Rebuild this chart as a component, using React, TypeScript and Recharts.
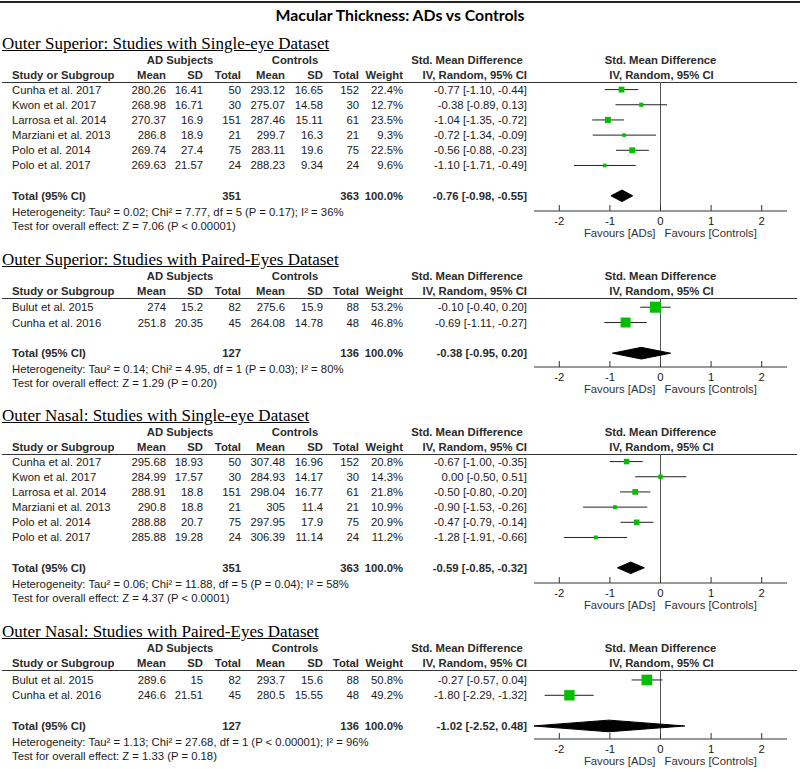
import React from 'react';
import { ScatterChart, Scatter, XAxis, YAxis, ReferenceLine, ErrorBar } from 'recharts';

const SANS = '"Liberation Sans", Arial, Helvetica, sans-serif';
const SERIF = '"Liberation Serif", "Times New Roman", serif';
const TITLE_FONT = 'Lato, "Liberation Sans", sans-serif';
const GREEN = '#00C000';
const INK = '#1a1a1a';
const HEAD = '#2b2b2b';

const mainTitle = 'Macular Thickness: ADs vs Controls';
const xTicks = [-2, -1, 0, 1, 2];
const favoursLeft = 'Favours [ADs]';
const favoursRight = 'Favours [Controls]';

// ---------- Panel 1 ----------
const p1Title = 'Outer Superior: Studies with Single-eye Dataset';
const p1Studies = ['Cunha et al. 2017', 'Kwon et al. 2017', 'Larrosa et al. 2014', 'Marziani et al. 2013', 'Polo et al. 2014', 'Polo et al. 2017'];
const p1AdMean = [280.26, 268.98, 270.37, 286.8, 269.74, 269.63];
const p1AdSd = [16.41, 16.71, 16.9, 18.9, 27.4, 21.57];
const p1AdN = [50, 30, 151, 21, 75, 24];
const p1CtMean = [293.12, 275.07, 287.46, 299.7, 283.11, 288.23];
const p1CtSd = [16.65, 14.58, 15.11, 16.3, 19.6, 9.34];
const p1CtN = [152, 30, 61, 21, 75, 24];
const p1Weight = [22.4, 12.7, 23.5, 9.3, 22.5, 9.6];
const p1Smd = [-0.77, -0.38, -1.04, -0.72, -0.56, -1.1];
const p1Lo = [-1.1, -0.89, -1.35, -1.34, -0.88, -1.71];
const p1Hi = [-0.44, 0.13, -0.72, -0.09, -0.23, -0.49];
const p1Total = { adN: 351, ctN: 363, smd: -0.76, lo: -0.98, hi: -0.55 };
const p1Het = 'Heterogeneity: Tau² = 0.02; Chi² = 7.77, df = 5 (P = 0.17); I² = 36%';
const p1Test = 'Test for overall effect: Z = 7.06 (P < 0.00001)';

// ---------- Panel 2 ----------
const p2Title = 'Outer Superior: Studies with Paired-Eyes Dataset';
const p2Studies = ['Bulut et al. 2015', 'Cunha et al. 2016'];
const p2AdMean = [274, 251.8];
const p2AdSd = [15.2, 20.35];
const p2AdN = [82, 45];
const p2CtMean = [275.6, 264.08];
const p2CtSd = [15.9, 14.78];
const p2CtN = [88, 48];
const p2Weight = [53.2, 46.8];
const p2Smd = [-0.1, -0.69];
const p2Lo = [-0.4, -1.11];
const p2Hi = [0.2, -0.27];
const p2Total = { adN: 127, ctN: 136, smd: -0.38, lo: -0.95, hi: 0.2 };
const p2Het = 'Heterogeneity: Tau² = 0.14; Chi² = 4.95, df = 1 (P = 0.03); I² = 80%';
const p2Test = 'Test for overall effect: Z = 1.29 (P = 0.20)';

// ---------- Panel 3 ----------
const p3Title = 'Outer Nasal: Studies with Single-eye Dataset';
const p3Studies = ['Cunha et al. 2017', 'Kwon et al. 2017', 'Larrosa et al. 2014', 'Marziani et al. 2013', 'Polo et al. 2014', 'Polo et al. 2017'];
const p3AdMean = [295.68, 284.99, 288.91, 290.8, 288.88, 285.88];
const p3AdSd = [18.93, 17.57, 18.8, 18.8, 20.7, 19.28];
const p3AdN = [50, 30, 151, 21, 75, 24];
const p3CtMean = [307.48, 284.93, 298.04, 305, 297.95, 306.39];
const p3CtSd = [16.96, 14.17, 16.77, 11.4, 17.9, 11.14];
const p3CtN = [152, 30, 61, 21, 75, 24];
const p3Weight = [20.8, 14.3, 21.8, 10.9, 20.9, 11.2];
const p3Smd = [-0.67, 0.0, -0.5, -0.9, -0.47, -1.28];
const p3Lo = [-1.0, -0.5, -0.8, -1.53, -0.79, -1.91];
const p3Hi = [-0.35, 0.51, -0.2, -0.26, -0.14, -0.66];
const p3Total = { adN: 351, ctN: 363, smd: -0.59, lo: -0.85, hi: -0.32 };
const p3Het = 'Heterogeneity: Tau² = 0.06; Chi² = 11.88, df = 5 (P = 0.04); I² = 58%';
const p3Test = 'Test for overall effect: Z = 4.37 (P < 0.0001)';

// ---------- Panel 4 ----------
const p4Title = 'Outer Nasal: Studies with Paired-Eyes Dataset';
const p4Studies = ['Bulut et al. 2015', 'Cunha et al. 2016'];
const p4AdMean = [289.6, 246.6];
const p4AdSd = [15, 21.51];
const p4AdN = [82, 45];
const p4CtMean = [293.7, 280.5];
const p4CtSd = [15.6, 15.55];
const p4CtN = [88, 48];
const p4Weight = [50.8, 49.2];
const p4Smd = [-0.27, -1.8];
const p4Lo = [-0.57, -2.29];
const p4Hi = [0.04, -1.32];
const p4Total = { adN: 127, ctN: 136, smd: -1.02, lo: -2.52, hi: 0.48 };
const p4Het = 'Heterogeneity: Tau² = 1.13; Chi² = 27.68, df = 1 (P < 0.00001); I² = 96%';
const p4Test = 'Test for overall effect: Z = 1.33 (P = 0.18)';

const panels = [
  { title: p1Title, studies: p1Studies, adMean: p1AdMean, adSd: p1AdSd, adN: p1AdN, ctMean: p1CtMean, ctSd: p1CtSd, ctN: p1CtN, weight: p1Weight, smd: p1Smd, lo: p1Lo, hi: p1Hi, total: p1Total, het: p1Het, test: p1Test, lineY: 82, axisY: 211, dMin: -0.5, dMax: 8 },
  { title: p2Title, studies: p2Studies, adMean: p2AdMean, adSd: p2AdSd, adN: p2AdN, ctMean: p2CtMean, ctSd: p2CtSd, ctN: p2CtN, weight: p2Weight, smd: p2Smd, lo: p2Lo, hi: p2Hi, total: p2Total, het: p2Het, test: p2Test, lineY: 298, axisY: 367, dMin: -0.6, dMax: 3.9 },
  { title: p3Title, studies: p3Studies, adMean: p3AdMean, adSd: p3AdSd, adN: p3AdN, ctMean: p3CtMean, ctSd: p3CtSd, ctN: p3CtN, weight: p3Weight, smd: p3Smd, lo: p3Lo, hi: p3Hi, total: p3Total, het: p3Het, test: p3Test, lineY: 454, axisY: 583, dMin: -0.5, dMax: 8 },
  { title: p4Title, studies: p4Studies, adMean: p4AdMean, adSd: p4AdSd, adN: p4AdN, ctMean: p4CtMean, ctSd: p4CtSd, ctN: p4CtN, weight: p4Weight, smd: p4Smd, lo: p4Lo, hi: p4Hi, total: p4Total, het: p4Het, test: p4Test, lineY: 670, axisY: 739, dMin: -0.65, dMax: 3.85 },
];

const PLOT_LEFT = 534;
const PLOT_RIGHT = 787;
const ZERO_X = (PLOT_LEFT + PLOT_RIGHT) / 2;
const FS = 11.3;
const DIAMOND_HALF = 0.38;

const fmt = (v: number) => v.toFixed(2);
const ci = (s: number, l: number, h: number) => `${fmt(s)} [${fmt(l)}, ${fmt(h)}]`;

type TP = { x: number; y: number; a?: 'left' | 'right' | 'center'; b?: boolean; s?: number; c?: string; f?: string; u?: boolean; children: React.ReactNode };
function Txt({ x, y, a = 'left', b = false, s = FS, c = INK, f = SANS, u = false, children }: TP) {
  const st: React.CSSProperties = {
    position: 'absolute', top: y - 9, height: 18, lineHeight: '18px', fontSize: s,
    fontWeight: b ? 'bold' : 'normal', color: c, fontFamily: f, whiteSpace: 'nowrap',
    textDecoration: u ? 'underline' : 'none',
  };
  if (a === 'left') st.left = x;
  else if (a === 'right') st.right = 800 - x;
  else { st.left = x - 300; st.width = 600; st.textAlign = 'center'; }
  return <div style={st}>{children}</div>;
}

const Tick = (props: any) => {
  const { x, y, payload } = props;
  return (
    <g>
      <line x1={x} x2={x} y1={y - 6} y2={y} stroke="#333" strokeWidth={1} />
      <text x={x} y={y + 14} textAnchor="middle" fontSize={FS} fontFamily={SANS} fill={INK}>{payload.value}</text>
    </g>
  );
};

const Square = (props: any) => {
  const { cx, cy, payload } = props;
  const s = 2 + payload.w * 0.17;
  return <rect x={cx - s / 2} y={cy - s / 2} width={s} height={s} fill={GREEN} />;
};
const Empty = () => <g />;

// column right edges
const C_ADMEAN = 166, C_ADSD = 203, C_ADN = 241, C_CTMEAN = 285, C_CTSD = 323, C_CTN = 359, C_W = 403, C_SMD = 527;

function Panel({ p }: { p: any }) {
  const rowH = (p.axisY - p.lineY) / (p.dMax - p.dMin);
  const yOf = (i: number) => p.lineY + (i - p.dMin) * rowH;
  const totalIdx = p.studies.length + 1;
  const totalY = yOf(totalIdx);
  const rows = p.smd.map((v: number, i: number) => ({ x: v, y: i, err: [v - p.lo[i], p.hi[i] - v], w: p.weight[i] }));
  const t = p.total;
  const dia = [
    { x: t.lo, y: totalIdx },
    { x: t.smd, y: totalIdx - DIAMOND_HALF },
    { x: t.hi, y: totalIdx },
    { x: t.smd, y: totalIdx + DIAMOND_HALF },
    { x: t.lo, y: totalIdx },
  ];
  const L = p.lineY;
  return (
    <>
      <Txt x={2} y={L - 38} f={SERIF} s={17} c="#000" u>{p.title}</Txt>
      <Txt x={180} y={L - 22} a="center" b c={HEAD}>AD Subjects</Txt>
      <Txt x={295} y={L - 22} a="center" b c={HEAD}>Controls</Txt>
      <Txt x={467} y={L - 22} a="center" b c={HEAD}>Std. Mean Difference</Txt>
      <Txt x={ZERO_X} y={L - 22} a="center" b c={HEAD}>Std. Mean Difference</Txt>
      <Txt x={12} y={L - 7} b c={HEAD}>Study or Subgroup</Txt>
      <Txt x={C_ADMEAN} y={L - 7} a="right" b c={HEAD}>Mean</Txt>
      <Txt x={C_ADSD} y={L - 7} a="right" b c={HEAD}>SD</Txt>
      <Txt x={C_ADN} y={L - 7} a="right" b c={HEAD}>Total</Txt>
      <Txt x={C_CTMEAN} y={L - 7} a="right" b c={HEAD}>Mean</Txt>
      <Txt x={C_CTSD} y={L - 7} a="right" b c={HEAD}>SD</Txt>
      <Txt x={C_CTN} y={L - 7} a="right" b c={HEAD}>Total</Txt>
      <Txt x={C_W} y={L - 7} a="right" b c={HEAD}>Weight</Txt>
      <Txt x={C_SMD} y={L - 7} a="right" b c={HEAD}>IV, Random, 95% CI</Txt>
      <Txt x={ZERO_X + 1} y={L - 7} a="center" b c={HEAD}>IV, Random, 95% CI</Txt>
      <div style={{ position: 'absolute', left: 2, top: L, width: 795, height: 1, background: '#333' }} />
      {p.studies.map((s: string, i: number) => (
        <React.Fragment key={s}>
          <Txt x={12} y={yOf(i)}>{s}</Txt>
          <Txt x={C_ADMEAN} y={yOf(i)} a="right">{String(p.adMean[i])}</Txt>
          <Txt x={C_ADSD} y={yOf(i)} a="right">{String(p.adSd[i])}</Txt>
          <Txt x={C_ADN} y={yOf(i)} a="right">{String(p.adN[i])}</Txt>
          <Txt x={C_CTMEAN} y={yOf(i)} a="right">{String(p.ctMean[i])}</Txt>
          <Txt x={C_CTSD} y={yOf(i)} a="right">{String(p.ctSd[i])}</Txt>
          <Txt x={C_CTN} y={yOf(i)} a="right">{String(p.ctN[i])}</Txt>
          <Txt x={C_W} y={yOf(i)} a="right">{p.weight[i].toFixed(1) + '%'}</Txt>
          <Txt x={C_SMD} y={yOf(i)} a="right">{ci(p.smd[i], p.lo[i], p.hi[i])}</Txt>
        </React.Fragment>
      ))}
      <Txt x={12} y={totalY} b c={HEAD}>Total (95% CI)</Txt>
      <Txt x={C_ADN} y={totalY} a="right" b c={HEAD}>{String(t.adN)}</Txt>
      <Txt x={C_CTN} y={totalY} a="right" b c={HEAD}>{String(t.ctN)}</Txt>
      <Txt x={C_W} y={totalY} a="right" b c={HEAD}>100.0%</Txt>
      <Txt x={C_SMD} y={totalY} a="right" b c={HEAD}>{ci(t.smd, t.lo, t.hi)}</Txt>
      <Txt x={12} y={totalY + 16}>{p.het}</Txt>
      <Txt x={12} y={totalY + 30}>{p.test}</Txt>
      <Txt x={ZERO_X - 5} y={p.axisY + 22} a="right" c="#333">{favoursLeft}</Txt>
      <Txt x={ZERO_X + 4} y={p.axisY + 22} c="#333">{favoursRight}</Txt>
      <div style={{ position: 'absolute', left: 0, top: L }}>
        <ScatterChart width={800} height={p.axisY - L + 30} margin={{ top: 0, right: 800 - PLOT_RIGHT, bottom: 0, left: PLOT_LEFT }}>
          <XAxis type="number" dataKey="x" domain={[-2.5, 2.5]} allowDataOverflow ticks={xTicks} interval={0}
            tickLine={false} tickSize={0} tickMargin={0} tick={<Tick />} height={30} axisLine={{ stroke: '#333' }} />
          <YAxis type="number" dataKey="y" domain={[p.dMin, p.dMax]} reversed hide allowDataOverflow />
          <ReferenceLine x={0} stroke="#555" strokeWidth={1} />
          <Scatter data={rows} shape={Square} isAnimationActive={false} legendType="none">
            <ErrorBar dataKey="err" direction="x" width={0} stroke="#222" strokeWidth={1} />
          </Scatter>
          <Scatter data={dia} shape={Empty} line={{ fill: '#000', stroke: '#000', strokeWidth: 1 }} lineType="joint" isAnimationActive={false} legendType="none" />
        </ScatterChart>
      </div>
    </>
  );
}

export default function App() {
  return (
    <div style={{ position: 'absolute', left: 0, top: 0, width: 800, height: 769, background: '#fff', overflow: 'hidden' }}>
      <div style={{ position: 'absolute', left: 0, top: 1, width: 800, height: 2, background: '#222' }} />
      <Txt x={400} y={15} a="center" b s={15.8} f={TITLE_FONT} c="#000">{mainTitle}</Txt>
      {panels.map((p) => <Panel key={p.title} p={p} />)}
    </div>
  );
}
